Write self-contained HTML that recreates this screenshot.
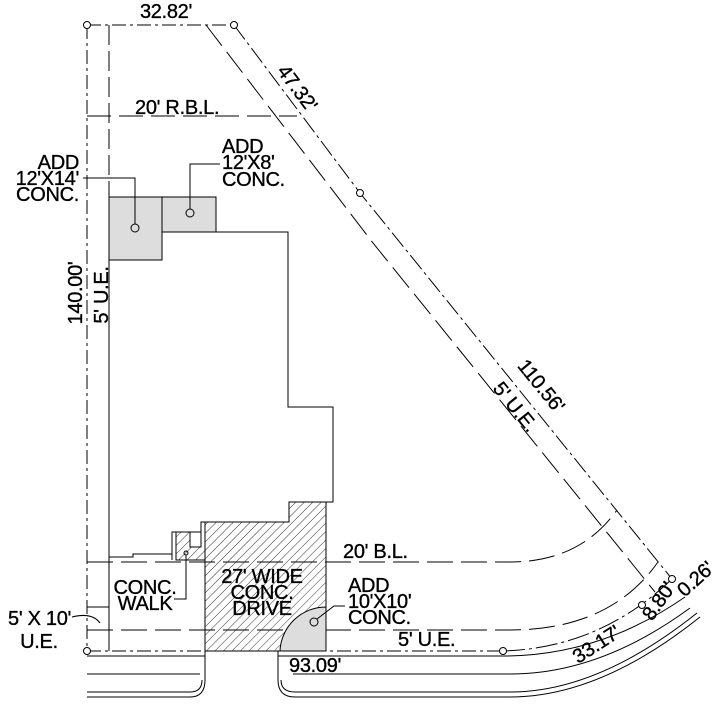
<!DOCTYPE html>
<html><head><meta charset="utf-8"><style>
html,body{margin:0;padding:0;background:#fff;}
svg{display:block;}
text{font-family:"Liberation Sans",sans-serif;font-size:20px;letter-spacing:-0.3px;fill:#000;stroke:#000;stroke-width:0.35;}
</style></head><body>
<svg width="724" height="716" viewBox="0 0 724 716" xmlns="http://www.w3.org/2000/svg">
<defs>
<pattern id="h" patternUnits="userSpaceOnUse" width="6" height="6" patternTransform="rotate(45)">
<line x1="0" y1="0" x2="0" y2="6" stroke="#000" stroke-width="0.8"/>
</pattern>
</defs>
<g fill="none" stroke="#000" stroke-width="1">
<path d="M87,25 H234" stroke-dasharray="14,4,3,4"/>
<path d="M87,25 V651" stroke-dasharray="14,4,3,4"/>
<path d="M234,25 L360,193 L672,579" stroke-dasharray="18,4,3,4"/>
<path d="M87,651 H503" stroke-dasharray="14,4,3,4"/>
<path d="M503,651 Q600,648 672,579" stroke-dasharray="22,4,3,4"/>
<path d="M206,25 L373,243 L655,592" stroke-dasharray="26,8"/>
<path d="M109,25 V197" stroke-dasharray="20,6"/>
<path d="M109,197 V651"/>
<path d="M87,607 H109"/>
<path d="M87,116 H297" stroke-dasharray="24,8"/>
<path d="M87,562 H510 Q580,562 617,510" stroke-dasharray="26,8"/>
<path d="M87,630 H510 Q610,630 658,562" stroke-dasharray="26,8"/>
<path d="M87,656 H205"/>
<path d="M87,674 H200"/>
<path d="M87,697 H190 Q205,697 205,680 V651"/>
<path d="M87,692 H190 Q202,692 202,680"/>
<path d="M278,651 V680 Q278,697 295,697 H510 Q600,697 700,617"/>
<path d="M281,680 Q281,692 295,692 H510 Q598,692 697,613"/>
<path d="M278,656 H503 Q600,656 685,597"/>
<path d="M293,674 H510 Q600,674 690,608"/>
<rect x="109" y="197" width="53" height="63" fill="#ddd"/>
<rect x="162" y="197" width="54" height="35" fill="#ddd"/>
<path d="M216,232 H288 V407 H333 V502 H289"/>
<path d="M109,557 H133 V554 H172"/>
<path d="M289,502 H326 V651 H205 V522 H289 Z" fill="url(#h)"/>
<path d="M205,522 H201 V532 H172 V560"/>
<path d="M176,547 H190 V532 H176 Z M176,547 V560 H205 V547 Z" fill="url(#h)" stroke="none"/>
<path d="M176,532 H201 V547 H190 V532 M176,532 V560 H205" fill="none"/>
<path d="M280,651 A46,46 0 0 1 326,607 V651 Z" fill="#ddd"/>
<circle cx="87" cy="25" r="3.5" fill="#fff"/>
<circle cx="234" cy="25" r="3.5" fill="#fff"/>
<circle cx="360" cy="193" r="3.5" fill="#fff"/>
<circle cx="672" cy="579" r="3.5" fill="#fff"/>
<circle cx="642" cy="605" r="3.5" fill="#fff"/>
<circle cx="503" cy="651" r="3.5" fill="#fff"/>
<circle cx="87" cy="651" r="3.5" fill="#fff"/>
<circle cx="135" cy="228" r="4"/>
<circle cx="190" cy="213" r="4"/>
<circle cx="314" cy="622" r="4"/>
<circle cx="186" cy="553" r="2"/>
<path d="M83,178 H135 V224"/>
<path d="M220,164 H190 V209"/>
<path d="M186,555 V599 H174"/>
<path d="M317,619 L334,606 H345"/>
<path d="M72,617 Q92,612 100,623"/>
</g>
<text x="166" y="18" text-anchor="middle">32.82'</text>
<text transform="translate(292,92) rotate(53)" text-anchor="middle">47.32'</text>
<text x="135" y="114">20'  R.B.L.</text>
<text x="79" y="169" text-anchor="end">ADD</text>
<text x="79" y="185" text-anchor="end">12'X14'</text>
<text x="79" y="201" text-anchor="end">CONC.</text>
<text x="222" y="153">ADD</text>
<text x="222" y="169">12'X8'</text>
<text x="222" y="186">CONC.</text>
<text transform="translate(82,293) rotate(-90)" text-anchor="middle">140.00'</text>
<text transform="translate(108,295) rotate(-90)" text-anchor="middle">5' U.E.</text>
<text transform="translate(536,390) rotate(51)" text-anchor="middle">110.56'</text>
<text transform="translate(510,411) rotate(51)" text-anchor="middle">5' U.E.</text>
<text x="343" y="558">20'  B.L.</text>
<text x="262" y="583" text-anchor="middle">27' WIDE</text>
<text x="262" y="599" text-anchor="middle">CONC.</text>
<text x="262" y="615" text-anchor="middle">DRIVE</text>
<text x="145" y="594" text-anchor="middle">CONC.</text>
<text x="145" y="610" text-anchor="middle">WALK</text>
<text x="348" y="592">ADD</text>
<text x="348" y="608">10'X10'</text>
<text x="348" y="624">CONC.</text>
<text x="398" y="646">5' U.E.</text>
<text x="289" y="672">93.09'</text>
<text x="8" y="625">5' X 10'</text>
<text x="39" y="648" text-anchor="middle">U.E.</text>
<text transform="translate(600,650) rotate(-33)" text-anchor="middle">33.17'</text>
<text transform="translate(664,605) rotate(-55)" text-anchor="middle">8.80'</text>
<text transform="translate(700,584) rotate(-42)" text-anchor="middle">0.26'</text>
</svg>
</body></html>
